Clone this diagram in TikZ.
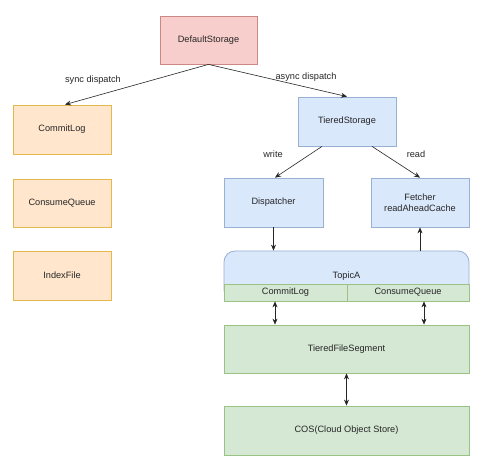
\documentclass[tikz,border=0pt]{standalone}
\usepackage{fontspec}
\setmainfont{Liberation Sans}
\usetikzlibrary{arrows.meta}
\definecolor{redF}{HTML}{F8CECC}\definecolor{redD}{HTML}{B85450}
\definecolor{orF}{HTML}{FFE6CC}\definecolor{orD}{HTML}{D79B00}
\definecolor{blF}{HTML}{DAE8FC}\definecolor{blD}{HTML}{6C8EBF}
\definecolor{grF}{HTML}{D5E8D4}\definecolor{grD}{HTML}{82B366}
\tikzset{
  box/.style={draw, line width=0.8pt, inner sep=0pt, align=center, font=\fontsize{9.2}{11}\selectfont, text=black!85},
  redbox/.style={box, fill=redF, draw=redD!70},
  orbox/.style={box, fill=orF, draw=orD!70},
  blbox/.style={box, fill=blF, draw=blD!70},
  grbox/.style={box, fill=grF, draw=grD!80},
  lab/.style={font=\fontsize{9.2}{11}\selectfont, text=black!85, inner sep=1pt},
  conn/.style={line width=0.6pt, black!85, -{Stealth[length=6pt,width=5pt]}},
  bconn/.style={line width=0.6pt, black!85, {Stealth[length=6pt,width=5pt]}-{Stealth[length=6pt,width=5pt]}}
}
\begin{document}
\begin{tikzpicture}[x=1pt,y=-1pt]
\useasboundingbox[fill=white] (0,0) rectangle (477,470);
\node[redbox, minimum width=97pt, minimum height=48pt] (ds) at (208.5,40) {DefaultStorage};
\node[orbox, minimum width=98pt, minimum height=49pt] (cl) at (62,129.5) {CommitLog};
\node[orbox, minimum width=98pt, minimum height=48pt] (cq) at (62,203) {ConsumeQueue};
\node[orbox, minimum width=98pt, minimum height=49pt] (ix) at (62,275.5) {IndexFile};
\node[blbox, minimum width=98pt, minimum height=49pt] (ts) at (347,121.5) {TieredStorage};
\node[blbox, minimum width=99pt, minimum height=49pt] (disp) at (273.5,202.5) {Dispatcher};
\node[blbox, minimum width=98pt, minimum height=49pt] (fetch) at (420,202.5) {Fetcher\\readAheadCache};
\node[blbox, rounded corners=11pt, minimum width=245pt, minimum height=50pt] (topic) at (346.5,276) {TopicA};
\node[grbox, minimum width=123pt, minimum height=17pt] (tcl) at (285.5,292.5) {CommitLog};
\node[grbox, minimum width=122pt, minimum height=17pt] (tcq) at (408,292.5) {ConsumeQueue};
\node[grbox, minimum width=245pt, minimum height=48pt] (tfs) at (346.5,349) {TieredFileSegment};
\node[grbox, minimum width=245pt, minimum height=49pt] (cos) at (346.5,430.5) {COS(Cloud Object Store)};
\draw[conn] (ds.south) -- ([xshift=3pt]cl.north);
\draw[conn] (ds.south) -- (ts.north);
\draw[conn] ([xshift=-25pt]ts.south) -- ([xshift=1.5pt]disp.north);
\draw[conn] ([xshift=25pt]ts.south) -- (fetch.north);
\draw[conn] (disp.south) -- (disp.south |- topic.north);
\draw[conn] (fetch.south |- topic.north) -- (fetch.south);
\coordinate (a1) at ([xshift=-10.5pt]tcl.south);
\coordinate (a2) at ([xshift=16pt]tcq.south);
\draw[bconn] (a1) -- (a1 |- tfs.north);
\draw[bconn] (a2) -- (a2 |- tfs.north);
\draw[bconn] (tfs.south) -- (cos.north);
\node[lab] (l1) at (93,80) {sync dispatch};
\node[lab] (l2) at (306,77) {async dispatch};
\node[lab] (l3) at (273,154) {write};
\node[lab] (l4) at (416,154) {read};
\end{tikzpicture}
\end{document}
